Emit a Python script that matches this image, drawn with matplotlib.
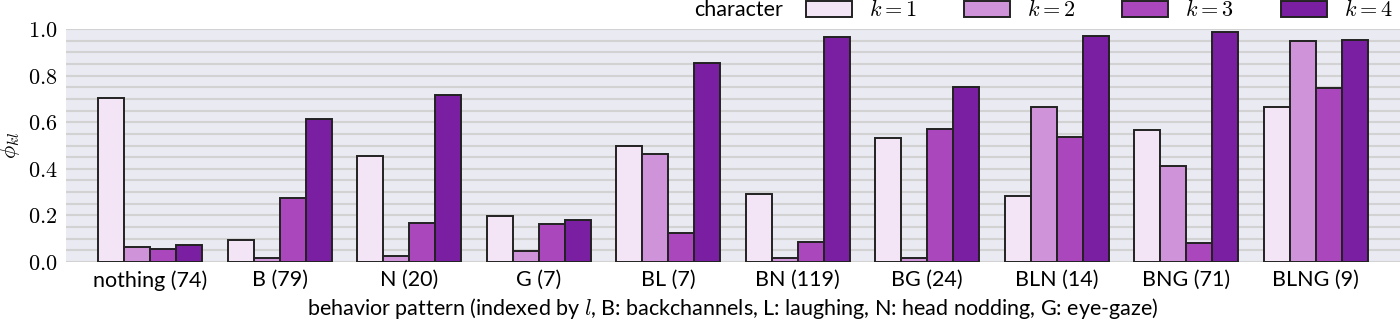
import numpy as np
import matplotlib
matplotlib.use("Agg")
import matplotlib.pyplot as plt
from matplotlib.patches import Patch
from matplotlib.ticker import MultipleLocator

plt.rcParams["mathtext.fontset"] = "cm"
plt.rcParams["font.family"] = ["Lato", "DejaVu Sans"]

patterns = ["nothing (74)", "B (79)", "N (20)", "G (7)", "BL (7)", "BN (119)",
            "BG (24)", "BLN (14)", "BNG (71)", "BLNG (9)"]
k_labels = ["$k=1$", "$k=2$", "$k=3$", "$k=4$"]
phi_k1 = [0.704, 0.093, 0.454, 0.197, 0.498, 0.290, 0.532, 0.285, 0.567, 0.664]
phi_k2 = [0.063, 0.016, 0.027, 0.046, 0.465, 0.017, 0.016, 0.664, 0.412, 0.948]
phi_k3 = [0.056, 0.273, 0.166, 0.165, 0.124, 0.086, 0.569, 0.538, 0.083, 0.748]
phi_k4 = [0.074, 0.615, 0.718, 0.179, 0.855, 0.967, 0.752, 0.971, 0.986, 0.953]
colors = ["#F3E5F5", "#CE93D8", "#AB47BC", "#7B1FA2"]

series = [phi_k1, phi_k2, phi_k3, phi_k4]

fig = plt.figure(figsize=(14, 3.23), dpi=100)
ax = fig.add_axes([66 / 1400, 1 - 262 / 323, 1334 / 1400, 233 / 323])
ax.set_facecolor("#EAEAF2")

x = np.arange(len(patterns))
w = 0.2
for i, vals in enumerate(series):
    ax.bar(x + (i - 1.5) * w, vals, width=w, color=colors[i],
           edgecolor="#222222", linewidth=1.4, zorder=3)

ax.set_xlim(-0.65, len(patterns) - 0.35)
ax.set_ylim(0, 1.0)
ax.yaxis.set_major_locator(MultipleLocator(0.2))
ax.yaxis.set_minor_locator(MultipleLocator(0.05))
ax.grid(axis="y", which="both", color="#D2D2D2", linewidth=1.5, zorder=0)
ax.set_axisbelow(True)
for s in ax.spines.values():
    s.set_visible(False)

ax.set_xticks(x)
ax.set_xticklabels(patterns, fontsize=15.5)
ax.set_yticks(np.arange(0, 1.01, 0.2))
ax.set_yticklabels([f"${v:.1f}$" for v in np.arange(0, 1.01, 0.2)], fontsize=16)
ax.tick_params(axis="both", which="both", length=0, pad=6)

ax.set_ylabel(r"$\phi_{kl}$", fontsize=16, labelpad=4)
ax.set_xlabel("behavior pattern (indexed by $l$, B: backchannels, L: laughing, "
              "N: head nodding, G: eye-gaze)", fontsize=15.5, labelpad=4)

handles = [Patch(facecolor=c, edgecolor="#222222", linewidth=1.4) for c in colors]
fig.legend(handles, k_labels, ncol=4, loc="center right",
           bbox_to_anchor=(1393 / 1400, 1 - 10 / 323), frameon=False, fontsize=16,
           handlelength=2.07, handleheight=0.72, columnspacing=2.1,
           handletextpad=0.77, borderpad=0, borderaxespad=0)
fig.text(694 / 1400, 1 - 10 / 323, "character", fontsize=15.5, va="center")

fig.savefig("out.png", dpi=100)
